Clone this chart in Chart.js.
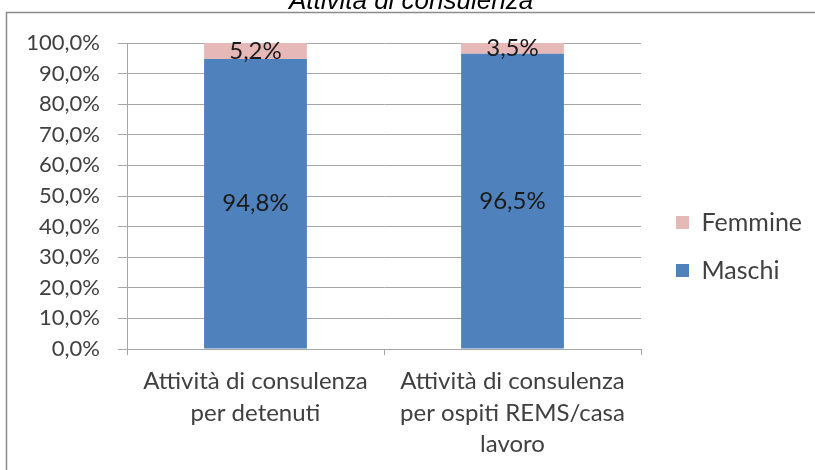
<!DOCTYPE html>
<html>
<head>
<meta charset="utf-8">
<script src="https://cdn.jsdelivr.net/npm/chart.js@4.4.1/dist/chart.umd.min.js"></script>
<style>
  html, body { margin: 0; padding: 0; background: #ffffff; }
  canvas { display: block; }
</style>
</head>
<body>
<canvas id="c" width="815" height="470" style="width:815px;height:470px"></canvas>
<script>
// ---- Data ----
const chartTitle = "Attività di consulenza";
const categories = [
  ["Attività di consulenza", "per detenuti"],
  ["Attività di consulenza", "per ospiti REMS/casa", "lavoro"]
];
const seriesNames = ["Maschi", "Femmine"];
const maschi = [94.8, 96.5];
const femmine = [5.2, 3.5];
const yTicks = [0, 10, 20, 30, 40, 50, 60, 70, 80, 90, 100];

const colMaschi = "#4F81BD";
const colFemmine = "#E6B9B8";
const textCol = "#404040";
const gridCol = "#A6A6A6";
const FONT = "Lato";

const fmt = v => v.toFixed(1).replace('.', ',') + '%';

const framePlugin = {
  id: 'frame',
  beforeDraw(chart) {
    const ctx = chart.ctx;
    ctx.save();
    ctx.fillStyle = '#ffffff';
    ctx.fillRect(0, 0, chart.width, chart.height);
    ctx.strokeStyle = '#8C8C8C';
    ctx.lineWidth = 1.5;
    ctx.strokeRect(6.5, 12.5, 1000, 1000);
    ctx.restore();
  },
  afterDraw(chart) {
    const ctx = chart.ctx;
    ctx.save();
    ctx.fillStyle = '#000000';
    ctx.font = 'italic 26px "Liberation Sans"';
    ctx.textAlign = 'center';
    ctx.textBaseline = 'alphabetic';
    ctx.fillText(chartTitle, 411, 9);
    ctx.restore();
  }
};

const labelPlugin = {
  id: 'barLabels',
  afterDatasetsDraw(chart) {
    const ctx = chart.ctx;
    ctx.save();
    ctx.font = '24px ' + FONT;
    ctx.fillStyle = '#1a1a1a';
    ctx.textAlign = 'center';
    ctx.textBaseline = 'middle';
    chart.data.datasets.forEach((ds, di) => {
      const meta = chart.getDatasetMeta(di);
      meta.data.forEach((el, i) => {
        const p = el.getProps(['x', 'y', 'base'], true);
        ctx.fillText(fmt(ds.data[i]), p.x, (p.y + p.base) / 2);
      });
    });
    ctx.restore();
  }
};

const legendPlace = {
  id: 'legendPlace',
  afterLayout(chart) {
    const lg = chart.legend;
    if (!lg) return;
    lg.left = 653; lg.right = 815;
    lg.top = 187; lg.bottom = 470;
    lg.width = 162; lg.height = 283;
  }
};

new Chart(document.getElementById('c'), {
  type: 'bar',
  data: {
    labels: categories,
    datasets: [
      { label: seriesNames[0], data: maschi, backgroundColor: colMaschi, borderWidth: 0 },
      { label: seriesNames[1], data: femmine, backgroundColor: colFemmine, borderWidth: 0 }
    ]
  },
  options: {
    responsive: false,
    animation: false,
    devicePixelRatio: 1,
    layout: { padding: { top: 43, right: 174, bottom: 0, left: 0 } },
    datasets: { bar: { categoryPercentage: 0.4, barPercentage: 1.0 } },
    plugins: {
      title: { display: false },
      tooltip: { enabled: false },
      legend: {
        display: true,
        position: 'chartArea',
        align: 'start',
        reverse: true,
        labels: {
          boxWidth: 13, boxHeight: 13, padding: 23,
          color: textCol,
          font: { family: FONT, size: 25 }
        }
      }
    },
    scales: {
      x: {
        stacked: true,
        grid: { drawOnChartArea: false, drawTicks: true, tickLength: 6, color: gridCol, offset: true },
        border: { color: gridCol },
        ticks: { color: textCol, font: { family: FONT, size: 24, lineHeight: 1.3 }, padding: 11, maxRotation: 0, autoSkip: false },
        afterFit(s) { s.height = 121; }
      },
      y: {
        stacked: true,
        min: 0, max: 100,
        afterBuildTicks(s) { s.ticks = yTicks.map(v => ({ value: v })); },
        ticks: { color: textCol, font: { family: FONT, size: 22 }, padding: 18, callback: v => fmt(v) },
        grid: { color: gridCol, tickLength: 9, drawTicks: true },
        border: { color: gridCol },
        afterFit(s) { s.width = 127; }
      }
    }
  },
  plugins: [framePlugin, labelPlugin, legendPlace]
});
</script>
</body>
</html>
